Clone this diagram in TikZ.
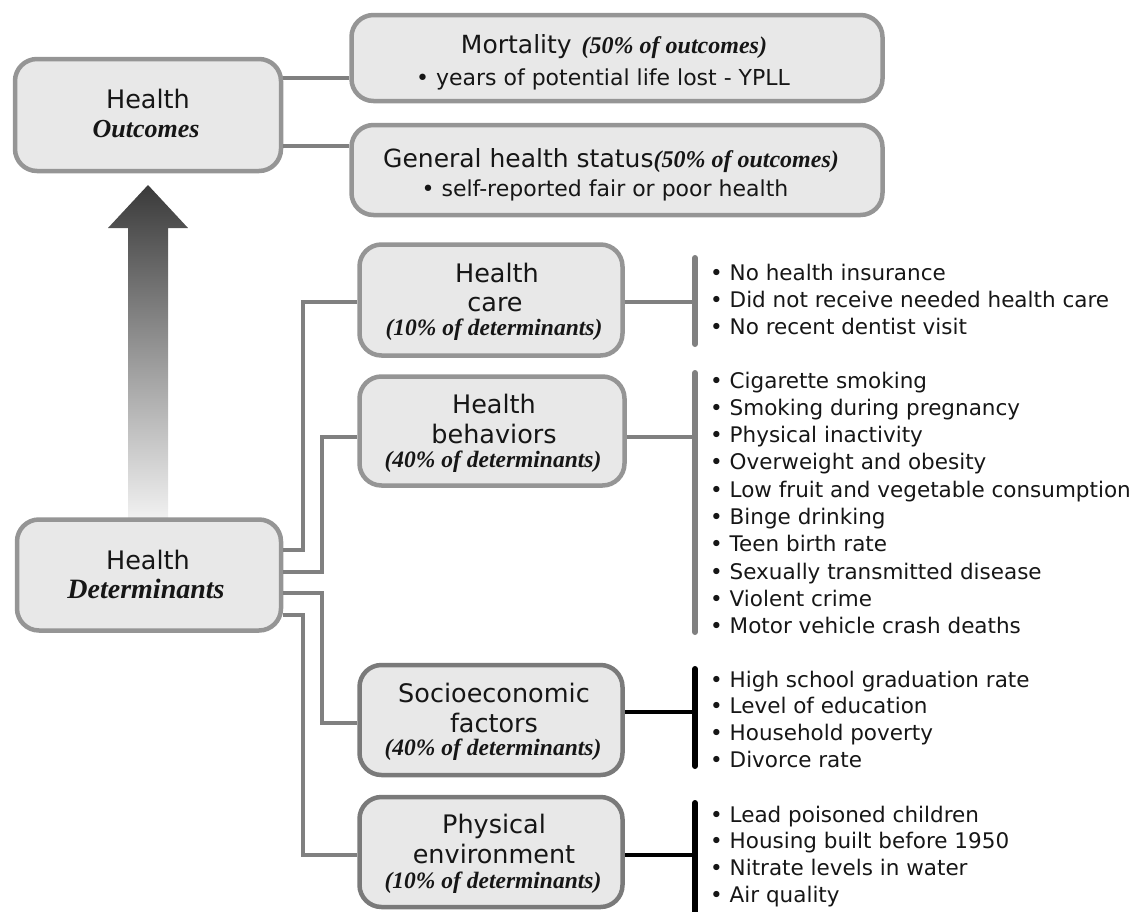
\documentclass[tikz,border=0pt]{standalone}
\usepackage{fontspec}
\setmainfont{DejaVu Sans}
\newfontfamily\tms{Liberation Serif}
\definecolor{boxfill}{HTML}{E8E8E8}
\definecolor{boxline}{HTML}{959595}
\definecolor{boxdark}{HTML}{7A7A7A}
\definecolor{connc}{HTML}{808080}
\definecolor{txt}{HTML}{161616}
\definecolor{arrtop}{HTML}{3A3A3A}
\definecolor{arrbot}{HTML}{F2F2F2}
\begin{document}
\begin{tikzpicture}[x=1pt,y=-1pt,
  box/.style={draw=boxline, fill=boxfill, line width=4.5pt, rounded corners=22pt, inner sep=0pt},
  dbox/.style={box, draw=boxdark},
  conn/.style={draw=connc, line width=4.5pt},
  bconn/.style={draw=black, line width=4.5pt},
  gbar/.style={draw=connc, line width=6pt, line cap=round},
  kbar/.style={draw=black, line width=6pt, line cap=round},
  ttl/.style={inner sep=0pt, anchor=base, text=txt, font=\fontsize{25.5}{30}\selectfont},
  sub/.style={inner sep=0pt, anchor=base, text=txt, font=\fontsize{22}{26}\selectfont},
  itl/.style={inner sep=0pt, anchor=base, text=txt, font=\tms\bfseries\itshape\fontsize{23.5}{28}\selectfont},
  item/.style={inner sep=0pt, anchor=base west, text=txt, font=\fontsize{21.5}{26}\selectfont}]
\useasboundingbox (0,0) rectangle (1138,911);

% big upward arrow
\shade[top color=arrtop, bottom color=arrbot]
  (128,520) -- (128,228) -- (108,228) -- (148,185) -- (188,228) -- (168,228) -- (168,520) -- cycle;

% boxes
\node[box, minimum width=266pt, minimum height=112pt] (out) at (148,115) {};
\node[box, minimum width=531pt, minimum height=86pt] (mort) at (617,58) {};
\node[box, minimum width=531pt, minimum height=90pt] (gen) at (617,170) {};
\node[box, minimum width=264pt, minimum height=111pt] (det) at (149,575) {};
\node[box, minimum width=263pt, minimum height=111pt] (hc) at (491,300) {};
\node[box, minimum width=265pt, minimum height=109pt] (hb) at (492,431) {};
\node[dbox, minimum width=263pt, minimum height=110pt] (se) at (491,720) {};
\node[dbox, minimum width=263pt, minimum height=110pt] (pe) at (491,852) {};

% box texts
\node[ttl] (outA) at (148,108) {Health};
\node[itl, font=\tms\bfseries\itshape\fontsize{26}{30}\selectfont] (outB) at (146,137) {Outcomes};
\node[ttl] (detA) at (148,569) {Health};
\node[itl, font=\tms\bfseries\itshape\fontsize{28}{32}\selectfont] (detB) at (146,598) {Determinants};

\node[ttl, font=\fontsize{25}{30}\selectfont] (mortA) at (614,53) {Mortality\hspace{0.4em}{\tms\bfseries\itshape\fontsize{24}{28}\selectfont(50\% of outcomes)}};
\node[sub] (mortB) at (603,85) {• years of potential life lost - YPLL};
\node[ttl, font=\fontsize{25}{30}\selectfont] (genA) at (611,167) {General health status{\tms\bfseries\itshape\fontsize{24}{28}\selectfont(50\% of outcomes)}};
\node[sub] (genB) at (605,196) {• self-reported fair or poor health};

\node[ttl] (hcA) at (497,282) {Health};
\node[ttl] (hcB) at (495,311) {care};
\node[itl] (hcC) at (494,335) {(10\% of determinants)};

\node[ttl] (hbA) at (494,413) {Health};
\node[ttl] (hbB) at (494,443) {behaviors};
\node[itl] (hbC) at (493,467) {(40\% of determinants)};

\node[ttl] (seA) at (494,702) {Socioeconomic};
\node[ttl] (seB) at (494,732) {factors};
\node[itl] (seC) at (493,755) {(40\% of determinants)};

\node[ttl] (peA) at (494,833) {Physical};
\node[ttl] (peB) at (494,863) {environment};
\node[itl] (peC) at (493,888) {(10\% of determinants)};

% connectors outcomes
\draw[conn] (out.east |- 0,78) -- (mort.west |- 0,78);
\draw[conn] (out.east |- 0,146) -- (gen.west |- 0,146);

% connectors determinants
\coordinate (j1) at (303,302);
\coordinate (j2) at (322,437);
\coordinate (j3) at (322,723);
\coordinate (j4) at (303,855);
\draw[conn] (det.east |- 0,550) -| (j1) -- (hc.west |- j1);
\draw[conn] (det.east |- 0,572) -| (j2) -- (hb.west |- j2);
\draw[conn] (det.east |- 0,593) -| (j3) -- (se.west |- j3);
\draw[conn] (det.east |- 0,615) -| (j4) -- (pe.west |- j4);

% brackets right
\coordinate (b1t) at (695,258); \coordinate (b1b) at (695,344);
\coordinate (b2t) at (695,373); \coordinate (b2b) at (695,632);
\coordinate (b3t) at (695,669); \coordinate (b3b) at (695,766);
\coordinate (b4t) at (695,803); \coordinate (b4b) at (695,915);
\draw[conn] (hc.east |- 0,302) -- (b1t |- 0,302);
\draw[gbar] (b1t) -- (b1b);
\draw[conn] (hb.east |- 0,437) -- (b2t |- 0,437);
\draw[gbar] (b2t) -- (b2b);
\draw[bconn] (se.east |- 0,712) -- (b3t |- 0,712);
\draw[kbar] (b3t) -- (b3b);
\draw[bconn] (pe.east |- 0,855) -- (b4t |- 0,855);
\draw[kbar] (b4t) -- (b4b);

% lists
\foreach \t [count=\i] in {No health insurance, Did not receive needed health care, No recent dentist visit}
  \node[item] (hcL\i) at (710,{280+27*(\i-1)}) {• \t};
\foreach \t [count=\i] in {Cigarette smoking, Smoking during pregnancy, Physical inactivity, Overweight and obesity, Low fruit and vegetable consumption, Binge drinking, Teen birth rate, Sexually transmitted disease, Violent crime, Motor vehicle crash deaths}
  \node[item] (hbL\i) at (710,{388+27.3*(\i-1)}) {• \t};
\foreach \t [count=\i] in {High school graduation rate, Level of education, Household poverty, Divorce rate}
  \node[item] (seL\i) at (710,{687+26.7*(\i-1)}) {• \t};
\foreach \t [count=\i] in {Lead poisoned children, Housing built before 1950, Nitrate levels in water, Air quality}
  \node[item] (peL\i) at (710,{822+26.7*(\i-1)}) {• \t};
\end{tikzpicture}
\end{document}
